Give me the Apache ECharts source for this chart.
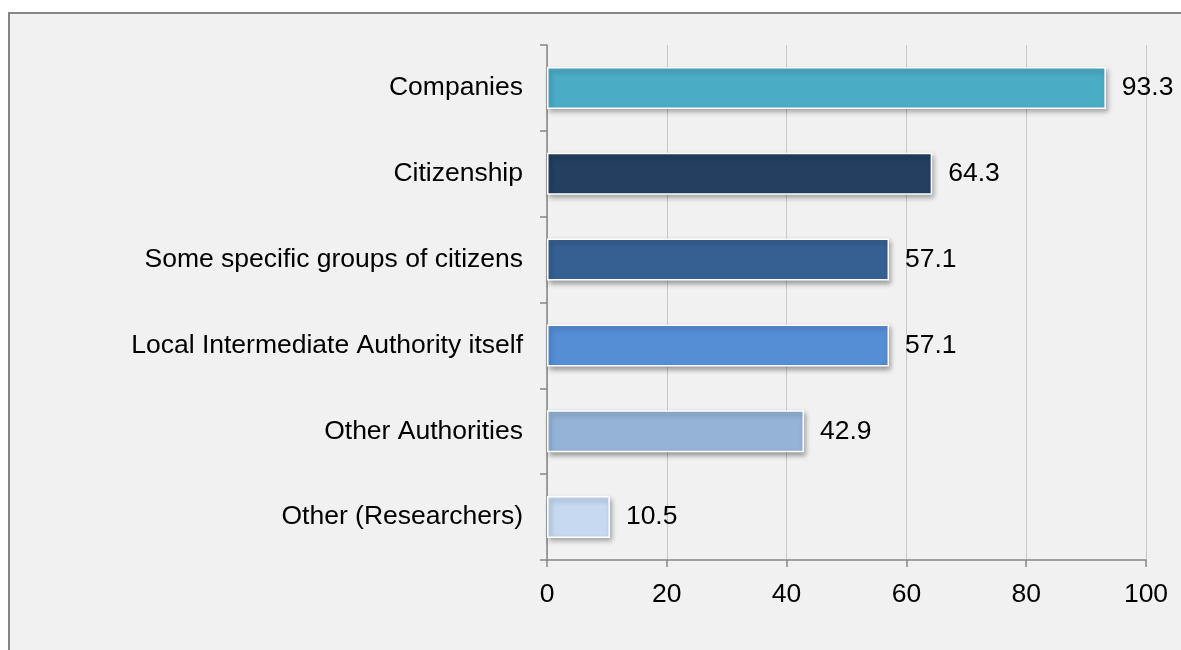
<!DOCTYPE html>
<html>
<head>
<meta charset="utf-8">
<script src="https://cdn.jsdelivr.net/npm/echarts@6/dist/echarts.min.js"></script>
<style>
  html, body { margin: 0; padding: 0; background: #ffffff; }
  #chart { width: 1181px; height: 650px; }
</style>
</head>
<body>
<div id="chart"></div>
<script>
// Categories listed bottom-to-top (category axis on y runs upward)
const categories = [
  'Other (Researchers)',
  'Other Authorities',
  'Local Intermediate Authority itself',
  'Some specific groups of citizens',
  'Citizenship',
  'Companies'
];
const values = [10.5, 42.9, 57.1, 57.1, 64.3, 93.3];
const barColors = ['#c6d9f1', '#95b3d7', '#558ed5', '#366092', '#243f60', '#4bacc6'];
const xTicks = [0, 20, 40, 60, 80, 100];

const FONT = 'Liberation Sans, Arial, sans-serif';

const chart = echarts.init(document.getElementById('chart'), null, { renderer: 'canvas' });

const option = {
  backgroundColor: '#ffffff',
  animation: false,
  graphic: [{
    type: 'rect',
    z: -10,
    shape: { x: 9, y: 13, width: 1190, height: 660 },
    style: { fill: '#f1f1f1', stroke: '#868686', lineWidth: 2 }
  }],
  grid: { left: 547, right: 35, top: 45, bottom: 90, containLabel: false },
  xAxis: {
    type: 'value',
    min: xTicks[0],
    max: xTicks[xTicks.length - 1],
    interval: 20,
    axisLine: { show: true, lineStyle: { color: '#868686', width: 1.5 } },
    axisTick: { show: true, length: 7, lineStyle: { color: '#868686', width: 1.5 } },
    splitLine: { show: true, lineStyle: { color: '#c8c8c8', width: 1 } },
    axisLabel: { color: '#000000', fontSize: 26.5, fontFamily: FONT, margin: 21 }
  },
  yAxis: {
    type: 'category',
    data: categories,
    axisLine: { show: true, lineStyle: { color: '#868686', width: 1.5 } },
    axisTick: { show: true, length: 7, lineStyle: { color: '#868686', width: 1.5 } },
    splitLine: { show: false },
    axisLabel: { color: '#000000', fontSize: 26.5, fontFamily: FONT, margin: 24 }
  },
  series: [{
    type: 'bar',
    barWidth: 42,
    data: values.map((v, i) => ({
      value: v,
      itemStyle: { color: barColors[i] }
    })),
    itemStyle: {
      borderColor: '#ffffff',
      borderWidth: 1.5,
      shadowBlur: 5,
      shadowOffsetX: 2,
      shadowOffsetY: 3,
      shadowColor: 'rgba(0,0,0,0.35)'
    },
    label: {
      show: true,
      position: 'right',
      distance: 16,
      color: '#000000',
      fontSize: 26.5,
      fontFamily: FONT,
      formatter: p => p.value.toFixed(1)
    }
  }]
};

chart.setOption(option);
</script>
</body>
</html>
